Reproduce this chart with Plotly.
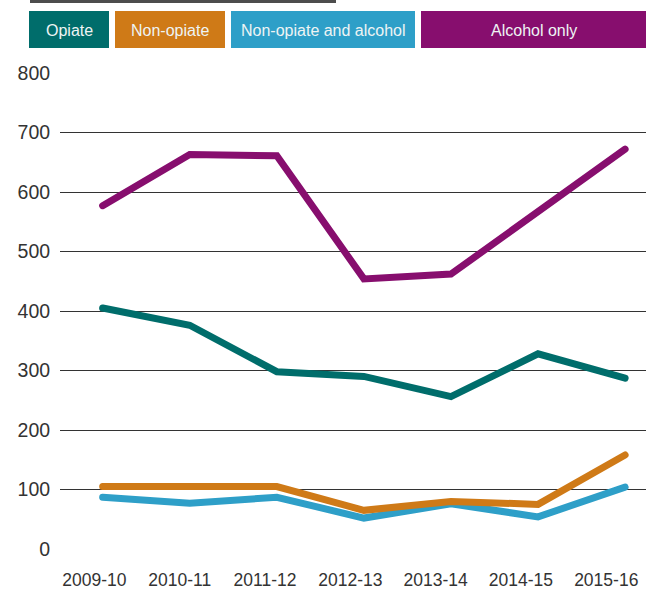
import plotly.graph_objects as go

years = ["2009-10", "2010-11", "2011-12", "2012-13", "2013-14", "2014-15", "2015-16"]
opiate = [405, 376, 298, 290, 256, 328, 287]
non_opiate = [105, 105, 105, 65, 80, 75, 158]
non_opiate_alcohol = [87, 77, 87, 52, 76, 54, 104]
alcohol_only = [577, 663, 661, 454, 462, 567, 672]
y_ticks = [0, 100, 200, 300, 400, 500, 600, 700, 800]

series_names = ["Opiate", "Non-opiate", "Non-opiate and alcohol", "Alcohol only"]
colors = {"Opiate": "#006d6b", "Non-opiate": "#cf7a17",
          "Non-opiate and alcohol": "#2e9fc8", "Alcohol only": "#870e6e"}

FONT = "Liberation Sans, Arial, sans-serif"
W, H = 646, 594
L, R, T, B = 60, 0, 73, 45

fig = go.Figure()
for name, vals in [("Opiate", opiate), ("Non-opiate and alcohol", non_opiate_alcohol),
                   ("Non-opiate", non_opiate), ("Alcohol only", alcohol_only)]:
    fig.add_trace(go.Scatter(x=years, y=vals, mode="lines", name=name,
                             line=dict(color=colors[name], width=7),
                             showlegend=False))

# invisible helper trace so the label axis (xaxis2) is drawn
fig.add_trace(go.Scatter(x=list(range(len(years))), y=opiate, xaxis="x2", yaxis="y",
                         mode="markers", marker=dict(opacity=0), hoverinfo="skip",
                         showlegend=False))

pw = W - L - R
ph = H - T - B
def px(x):
    return (x - L) / pw
def py(y):
    return (H - B - y) / ph

shapes = [dict(type="rect", xref="paper", yref="paper",
               x0=px(30), x1=px(336), y0=py(3), y1=py(0),
               fillcolor="#4d4d4d", line=dict(width=0), layer="above")]
annotations = []
boxes = [(29, 109), (115, 225), (231, 415), (421, 646)]
for name, (x0, x1) in zip(series_names, boxes):
    shapes.append(dict(type="rect", xref="paper", yref="paper",
                       x0=px(x0), x1=px(x1), y0=py(48), y1=py(11),
                       fillcolor=colors[name], line=dict(width=0), layer="above"))
    annotations.append(dict(x=px((x0 + x1) / 2), y=py(30), xref="paper", yref="paper",
                            text=name, showarrow=False, xanchor="center", yanchor="middle",
                            font=dict(family=FONT, size=16, color="#eef4f4")))

fig.update_layout(
    width=W, height=H,
    margin=dict(l=L, r=R, t=T, b=B, autoexpand=False),
    paper_bgcolor="white", plot_bgcolor="white",
    shapes=shapes, annotations=annotations,
    font=dict(family=FONT, size=18, color="#333333"),
    xaxis=dict(type="category", range=[-0.49, 6.24], showgrid=False, zeroline=False,
               showline=False, showticklabels=False, ticks="", automargin=False),
    xaxis2=dict(type="linear", overlaying="x", anchor="y", side="bottom",
                range=[-0.404, 6.466], tickvals=list(range(len(years))), ticktext=years,
                showgrid=False, zeroline=False, showline=False,
                ticks="outside", ticklen=15, tickcolor="rgba(0,0,0,0)", automargin=False,
                tickfont=dict(family=FONT, size=17.5, color="#333333")),
    yaxis=dict(range=[0, 800], tickvals=y_ticks, showgrid=True, gridcolor="#333333",
               gridwidth=1, zeroline=False, showline=False, ticks="outside", ticklen=5,
               tickcolor="rgba(0,0,0,0)", automargin=False,
               tickfont=dict(family=FONT, size=19.5, color="#333333")),
)

fig.write_html("out.html", config={"displayModeBar": False},
               post_script="document.body.style.margin='0';document.body.style.overflow='hidden';"
                           "document.querySelectorAll('.js-line').forEach(function(p){p.style.strokeLinecap='round';});")
